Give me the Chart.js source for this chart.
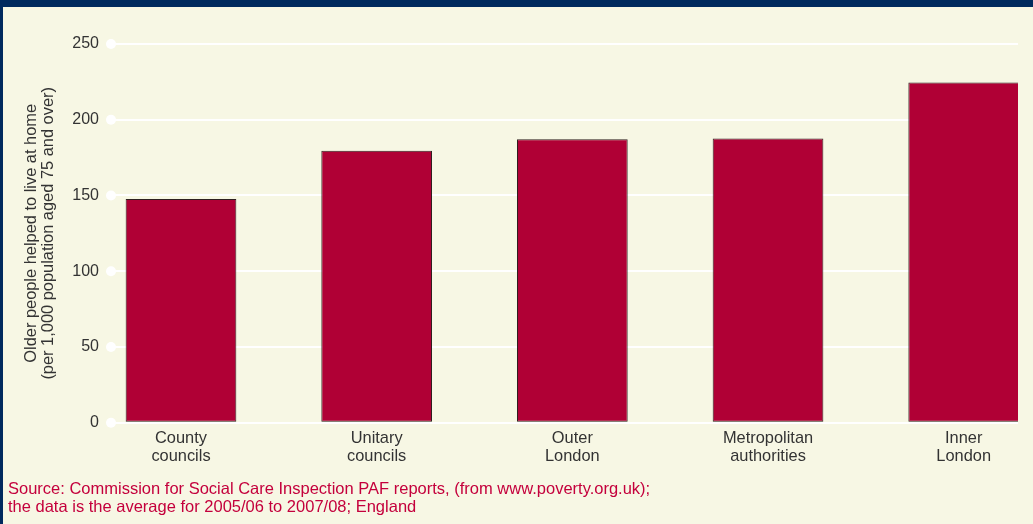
<!DOCTYPE html>
<html>
<head>
<meta charset="utf-8">
<script src="https://cdn.jsdelivr.net/npm/chart.js@4/dist/chart.umd.min.js"></script>
<style>
  html, body { margin: 0; padding: 0; width: 1033px; height: 524px; overflow: hidden; background: #f7f7e4; }
  #wrap { position: absolute; left: 0; top: 0; width: 1033px; height: 524px; }
  #topbar { position: absolute; left: 0; top: 0; width: 1033px; height: 7px; background: #002a5e; }
  #leftbar { position: absolute; left: 0; top: 0; width: 3px; height: 524px; background: #002a5e; }
</style>
</head>
<body>
<div id="wrap"><canvas id="c" width="1033" height="524"></canvas></div>
<div id="topbar"></div>
<div id="leftbar"></div>
<script>
const categories = [
  ["County", "councils"],
  ["Unitary", "councils"],
  ["Outer", "London"],
  ["Metropolitan", "authorities"],
  ["Inner", "London"]
];
const values = [147.6, 179.5, 187.2, 187.6, 224.6];
const yTicks = [0, 50, 100, 150, 200, 250];
const yTitle = ["Older people helped to live at home", "(per 1,000 population aged 75 and over)"];
const sourceLines = [
  "Source: Commission for Social Care Inspection PAF reports, (from www.poverty.org.uk);",
  "the data is the average for 2005/06 to 2007/08; England"
];

const FONT = "'Liberation Sans', Arial, Helvetica, sans-serif";

const dotPlugin = {
  id: 'gridDots',
  beforeDatasetsDraw(chart) {
    const y = chart.scales.y;
    const ctx = chart.ctx;
    ctx.save();
    ctx.fillStyle = '#ffffff';
    y.ticks.forEach((t, i) => {
      const py = y.getPixelForTick(i);
      ctx.beginPath();
      ctx.arc(chart.chartArea.left, py, 5, 0, Math.PI * 2);
      ctx.fill();
    });
    ctx.restore();
  }
};

new Chart(document.getElementById('c'), {
  type: 'bar',
  data: {
    datasets: [{
      data: values.map((v, i) => ({ x: i, y: v })),
      backgroundColor: '#b00035',
      borderColor: '#2e2020',
      borderWidth: 1,
      borderSkipped: false,
      barPercentage: 0.5657,
      categoryPercentage: 1
    }]
  },
  options: {
    responsive: false,
    animation: false,
    layout: { padding: { left: 8, right: 15, top: 44, bottom: 0 } },
    plugins: {
      legend: { display: false },
      tooltip: { enabled: false },
      title: {
        display: true,
        position: 'bottom',
        align: 'start',
        text: sourceLines,
        color: '#c4003c',
        font: { family: FONT, size: 16.5, weight: 'normal', lineHeight: 1.1 },
        padding: { top: 0, bottom: 7 }
      }
    },
    scales: {
      x: {
        type: 'linear',
        offset: false,
        min: -0.3577,
        max: 4.2775,
        grid: { display: false },
        border: { display: false },
        afterFit(scale) { scale.height = 58; },
        afterBuildTicks(scale) {
          scale.ticks = categories.map((c, i) => ({ value: i }));
        },
        ticks: {
          stepSize: 1,
          includeBounds: false,
          padding: -1,
          color: '#333333',
          font: { family: FONT, size: 16.4, lineHeight: 1.1 },
          maxRotation: 0,
          autoSkip: false,
          callback: (v) => (Number.isInteger(v) && categories[v]) ? categories[v] : ''
        }
      },
      y: {
        min: 0,
        max: 250,
        afterFit(scale) { scale.width = 103; },
        afterBuildTicks(scale) {
          scale.ticks = yTicks.map(v => ({ value: v }));
        },
        grid: { color: '#ffffff', lineWidth: 2, drawTicks: false },
        border: { display: false },
        ticks: {
          padding: 12,
          color: '#333333',
          font: { family: FONT, size: 16 }
        },
        title: {
          display: true,
          text: yTitle,
          color: '#333333',
          font: { family: FONT, size: 16.4, lineHeight: 1.04 },
          padding: { top: 14.5, bottom: 0 }
        }
      }
    }
  },
  plugins: [dotPlugin]
});
</script>
</body>
</html>
